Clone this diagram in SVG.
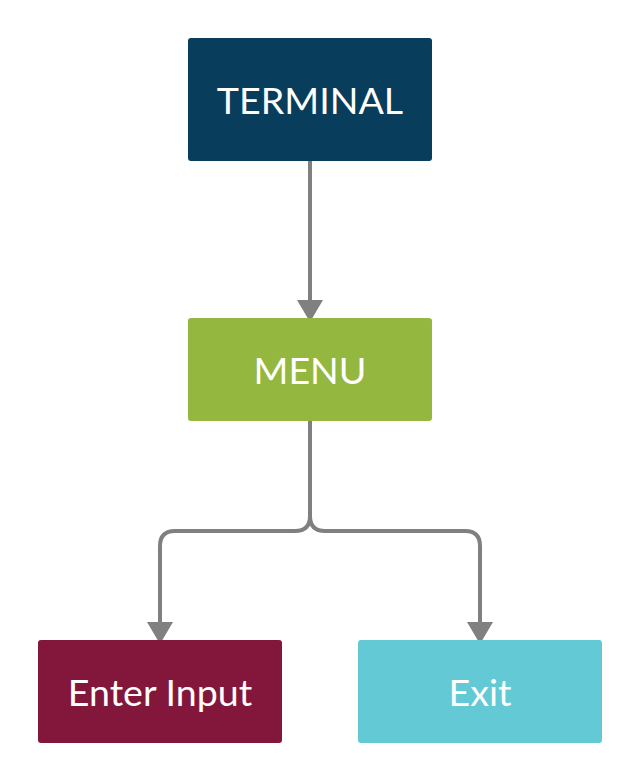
<svg xmlns="http://www.w3.org/2000/svg" width="640" height="782" viewBox="0 0 640 782">
<style>
.box{stroke:none}
.lbl{font-family:Lato,"Open Sans",sans-serif;font-size:37.6px;fill:#ffffff;text-anchor:middle;dominant-baseline:central}
.conn{fill:none;stroke:#808080;stroke-width:4}
.head{fill:#808080}
</style>
<rect width="640" height="782" fill="#ffffff"/>
<g id="connectors">
<path class="conn" d="M310,160 V300"/>
<path class="head" d="M297,300 L323,300 L310,322 Z"/>
<path class="conn" d="M310,421 V516 Q310,531 295,531 H175 Q160,531 160,546 V623"/>
<path class="conn" d="M310,421 V516 Q310,531 325,531 H465 Q480,531 480,546 V623"/>
<path class="head" d="M147,622 L173,622 L160,644 Z"/>
<path class="head" d="M467,622 L493,622 L480,644 Z"/>
</g>
<g id="terminal">
<rect class="box" x="188" y="38" width="244" height="123" rx="3" fill="#083d5c"/>
<text class="lbl" x="310" y="99">TERMINAL</text>
</g>
<g id="menu">
<rect class="box" x="188" y="318" width="244" height="103" rx="3" fill="#94b83f"/>
<text class="lbl" x="310" y="369">MENU</text>
</g>
<g id="enter-input">
<rect class="box" x="38" y="640" width="244" height="103" rx="3" fill="#82163b"/>
<text class="lbl" x="160" y="691">Enter Input</text>
</g>
<g id="exit">
<rect class="box" x="358" y="640" width="244" height="103" rx="3" fill="#63c9d5"/>
<text class="lbl" x="480" y="691">Exit</text>
</g>
</svg>
